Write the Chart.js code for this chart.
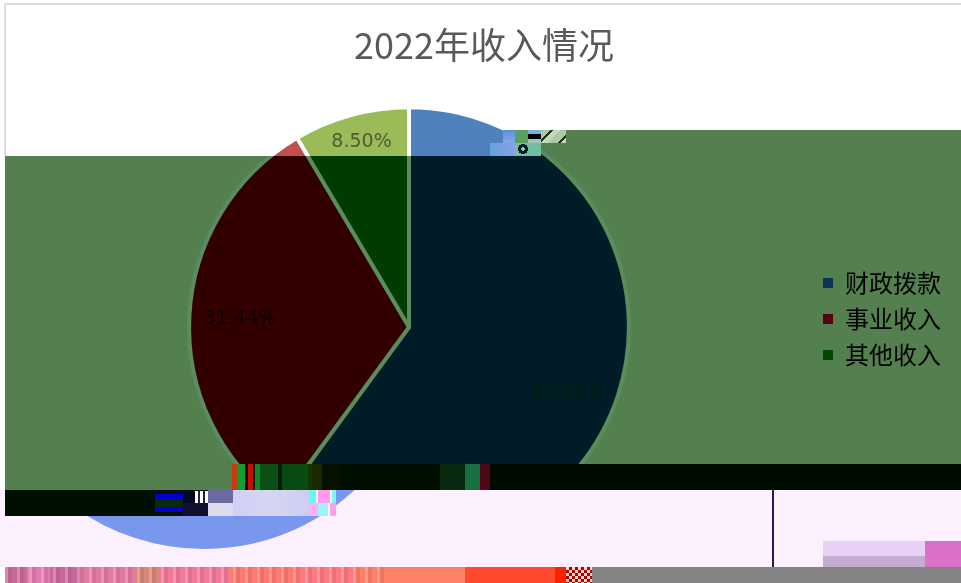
<!DOCTYPE html>
<html>
<head>
<meta charset="utf-8">
<title>2022年收入情况</title>
<script src="https://cdn.jsdelivr.net/npm/chart.js@4"></script>
<style>
  html, body { margin:0; padding:0; background:#fff; }
  #stage { position:relative; width:961px; height:583px; overflow:hidden; }
  .layer { position:absolute; left:0; top:0; width:961px; height:583px; }
  .layer canvas { position:absolute; left:0; top:0; }
  #base { background:#fff; }
  #dark { background:#548050; clip-path:polygon(541px 130px,961px 130px,961px 464px,232px 464px,232px 490px,5px 490px,5px 156px,541px 156px); }
  #low { background:#fdf0ff; clip-path:polygon(0 490px,961px 490px,961px 567px,0 567px); }
  #low canvas { left:-205px; }
  .glitch { position:absolute; }
  #frameTop { left:4px; top:3px; width:957px; height:2px; background:#dcdcdc; }
  #frameLeft { left:4px; top:3px; width:2px; height:153px; background:#dcdcdc; }
  #band1 { left:232px; top:464px; width:729px; height:26px;
    background:linear-gradient(90deg,#c83a10 0 5px,#10a030 5px 13px,#200008 13px 16px,#c01000 16px 21px,#0a1c00 21px 23px,#0a8a28 23px 28px,#0a5015 28px 46px,#001c08 46px 50px,#0a4a14 50px 76px,#103800 76px 80px,#1a2a00 80px 90px,#081000 90px 108px,#001000 108px 208px,#0a2a10 208px 233px,#1a7040 233px 248px,#500818 248px 258px,#000c00 258px); }
  #band2 { left:5px; top:490px; width:150px; height:26px; background:#001000; }
  #stripes { left:155px; top:490px; width:28px; height:26px;
    background:linear-gradient(180deg,#000c20 0 4px,#0000c8 4px 9px,#0a2a10 9px 17px,#0000c8 17px 22px,#001000 22px); }
  #navy { left:183px; top:490px; width:25px; height:26px; background:linear-gradient(180deg,#000a20 0 13px,#141030 13px); }
  #white { left:195px; top:491px; width:13px; height:12px; background:linear-gradient(90deg,#fff 0 3px,#223 3px 5px,#fff 5px 8px,#223 8px 10px,#fff 10px); }
  #grey { left:208px; top:490px; width:25px; height:26px; background:linear-gradient(180deg,#6a6aa0 0 13px,#dcdcee 13px); }
  #lilac { left:233px; top:490px; width:77px; height:26px; background:linear-gradient(90deg,#cfd0f6,#d6d6f0 50%,#cccdf6); }
  #sparkTop { left:310px; top:490px; width:26px; height:13px; background:linear-gradient(90deg,#60f8f8 0 6px,#fdf0ff 6px 8px,#ff9cf0 8px 20px,#fdf0ff 20px 22px,#80f4f0 22px); }
  #sparkLow { left:310px; top:503px; width:26px; height:13px; background:linear-gradient(90deg,#ffb0f0 0 8px,#9cf4f8 8px 18px,#fdf0ff 18px 20px,#ffa0e8 20px); }
  #tick { left:772px; top:490px; width:2px; height:77px; background:#2b1a4f; }
  #blockA { left:823px; top:541px; width:102px; height:15px; background:#e6d2f5; }
  #blockB { left:823px; top:556px; width:102px; height:11px; background:#c4acd0; }
  #blockC { left:925px; top:541px; width:36px; height:26px; background:#dc70c8; }
  #strip { left:5px; top:567px; width:561px; height:16px;
    background:
      repeating-linear-gradient(90deg,rgba(255,255,255,.22) 0 3px,rgba(120,40,60,.12) 3px 7px,rgba(255,255,255,0) 7px 12px) 0 0/380px 100% no-repeat,
      linear-gradient(90deg,#c86a98 0 22px,#e07ab0 22px 45px,#c8689a 45px 75px,#e07aa0 75px 130px,#d88878 130px 155px,#f07a98 155px 225px,#ff7a70 225px 295px,#ff7a80 295px 350px,#ff8068 350px 460px,#ff4a30 460px 550px,#ff2000 550px); }
  #check { left:566px; top:567px; width:26px; height:16px;
    background:repeating-conic-gradient(#b00000 0 25%,#f4d8d0 0 50%) 0 0/6px 6px; }
  #grey2 { left:592px; top:567px; width:369px; height:16px; background:#848484; }
  #top1 { left:503px; top:130px; width:12px; height:13px; background:linear-gradient(180deg,#5a90d8,#86a8e8); }
  #top2 { left:515px; top:130px; width:13px; height:13px; background:#58a060; }
  #top3 { left:528px; top:130px; width:13px; height:13px; background:linear-gradient(180deg,#7ab0d8 0 4px,#000 4px 9px,#a0c8b0 9px); }
  #top4 { left:541px; top:130px; width:25px; height:13px; background:repeating-linear-gradient(135deg,#aacca0 0 7px,#20301c 7px 9px,#c4d8b8 9px 14px); }
  #top5 { left:490px; top:143px; width:25px; height:13px; background:linear-gradient(90deg,#64a4dc,#8a9ee4); }
  #top6 { left:515px; top:143px; width:26px; height:13px; background:radial-gradient(circle at 8px 6px,#7cc8d0 0 2px,#001820 2px 5px,#70c0a0 5px); }
</style>
</head>
<body>
<div id="stage">
  <div class="layer" id="base"><canvas id="baseChart" width="961" height="583"></canvas></div>
  <div class="glitch" id="frameTop"></div><div class="glitch" id="frameLeft"></div>
  <div class="layer" id="dark"><canvas id="darkChart" width="961" height="583"></canvas></div>
  <div class="layer" id="low"><canvas id="lowChart" width="961" height="583"></canvas></div>
  <div class="glitch" id="band1"></div><div class="glitch" id="band2"></div>
  <div class="glitch" id="stripes"></div><div class="glitch" id="navy"></div><div class="glitch" id="white"></div>
  <div class="glitch" id="grey"></div><div class="glitch" id="lilac"></div><div class="glitch" id="sparkTop"></div><div class="glitch" id="sparkLow"></div>
  <div class="glitch" id="tick"></div>
  <div class="glitch" id="blockA"></div><div class="glitch" id="blockB"></div><div class="glitch" id="blockC"></div>
  <div class="glitch" id="strip"></div><div class="glitch" id="check"></div><div class="glitch" id="grey2"></div>
  <div class="glitch" id="top1"></div><div class="glitch" id="top2"></div><div class="glitch" id="top3"></div>
  <div class="glitch" id="top4"></div><div class="glitch" id="top5"></div><div class="glitch" id="top6"></div>
</div>
<script>
const chartTitle = '2022年收入情况';
const categories = ['财政拨款', '事业收入', '其他收入'];
const shares = [60.06, 31.44, 8.50];
const shareLabels = ['60.06%', '31.44%', '8.50%'];

// where each label sits along its slice, as a fraction of the radius, plus a nudge
const labelReach = [0.78, 0.77, 0.87];
const labelNudge = [[-4, 13], [0, 0], [3, -1]];

// the picture is colour-damaged, so the same pie is drawn once per colour zone
const themes = {
  base: { slices:['#4F81BD','#C0504D','#9BBB59'], edge:'#ffffff', title:'#595959', labels:['#404040','#404040','#4d5c33'], legend:'#404040', swatches:['#4F81BD','#C0504D','#9BBB59'] },
  dark: { slices:['#001C26','#330000','#003B00'], edge:'#5a8c5c', title:'#2a3a28', labels:['#04200f','#0e0000','#4d5c33'], legend:'#1a3018', swatches:['#0b3550','#560012','#004a00'] },
  low:  { slices:['#7A97EE','#7A97EE','#7A97EE'], edge:'#7A97EE', title:'#fdf0ff', labels:['#fdf0ff','#fdf0ff','#fdf0ff'], legend:'#fdf0ff', swatches:['#fdf0ff','#fdf0ff','#fdf0ff'] }
};

const sliceLabels = {
  id: 'sliceLabels',
  afterDatasetsDraw(chart, args, opts) {
    const ctx = chart.ctx;
    ctx.save();
    ctx.font = '19px "DejaVu Sans"';
    ctx.textAlign = 'center';
    ctx.textBaseline = 'middle';
    chart.getDatasetMeta(0).data.forEach((arc, i) => {
      const mid = (arc.startAngle + arc.endAngle) / 2;
      const r = arc.outerRadius * labelReach[i];
      ctx.fillStyle = opts.colors[i];
      ctx.fillText(shareLabels[i], arc.x + Math.cos(mid) * r + labelNudge[i][0], arc.y + Math.sin(mid) * r + labelNudge[i][1]);
    });
    ctx.restore();
  }
};

// title and legend sit off the pie's centre line
const placeBlocks = {
  id: 'placeBlocks',
  afterLayout(chart) {
    chart.titleBlock.left += 75;
    chart.titleBlock.right += 75;
    chart.legend.left = 811;
    chart.legend.right = 961;
    chart.legend.top += 97;
    chart.legend.bottom += 97;
  }
};

function drawPie(canvasId, theme) {
  return new Chart(document.getElementById(canvasId), {
    type: 'pie',
    data: {
      labels: categories,
      datasets: [{ data: shares, backgroundColor: theme.slices, borderColor: theme.edge, borderWidth: 4 }]
    },
    options: {
      responsive: false,
      animation: false,
      layout: { padding: { left: 0, right: 143, top: 24, bottom: 34 } },
      plugins: {
        title: {
          display: true, text: chartTitle, color: theme.title,
          font: { family: '"Noto Sans CJK SC"', size: 36, weight: 'normal' },
          padding: { top: 0, bottom: 38 }
        },
        legend: {
          position: 'chartArea',
          labels: {
            boxWidth: 10, boxHeight: 10, padding: 12, color: theme.legend,
            font: { family: '"Noto Sans CJK SC"', size: 24 },
            generateLabels: () => categories.map((c, i) => ({
              text: c, fillStyle: theme.swatches[i], strokeStyle: theme.swatches[i],
              lineWidth: 0, hidden: false, index: i
            }))
          }
        },
        tooltip: { enabled: false },
        sliceLabels: { colors: theme.labels }
      }
    },
    plugins: [sliceLabels, placeBlocks]
  });
}

drawPie('baseChart', themes.base);
drawPie('darkChart', themes.dark);
drawPie('lowChart', themes.low);
</script>
</body>
</html>
